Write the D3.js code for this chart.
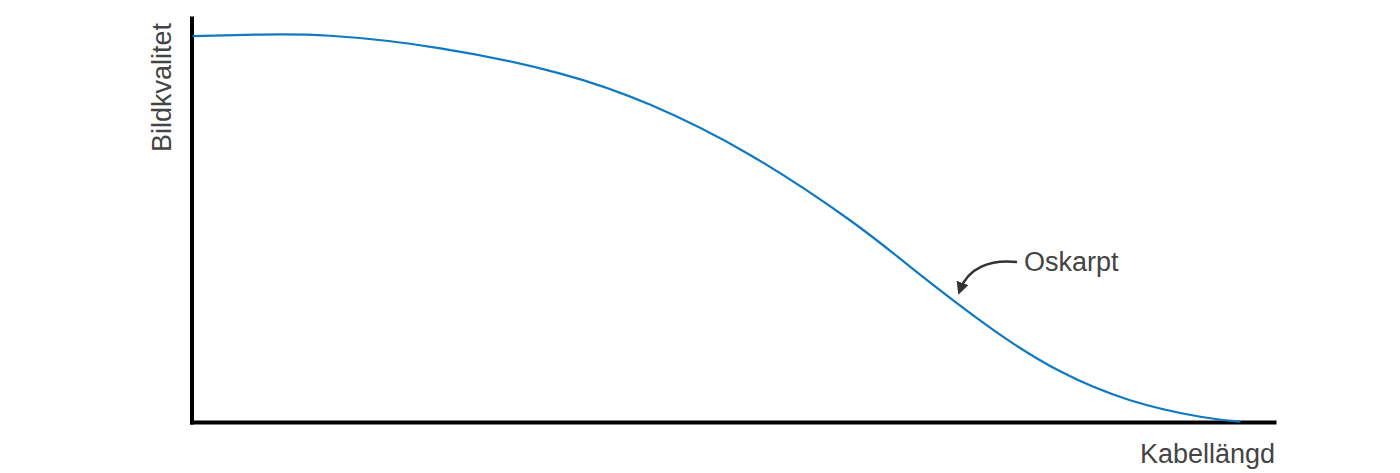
<!DOCTYPE html>
<html>
<head>
<meta charset="utf-8">
<script src="https://cdn.jsdelivr.net/npm/d3@7"></script>
<style>
  body { margin: 0; background: #fff; }
  text { font-family: "Liberation Sans", Arial, sans-serif; }
</style>
</head>
<body>
<div id="chart"></div>
<script>
// Curve (unitless: cable length vs. image quality)
const cableLength = [0.1, 6.3, 12.8, 23.0, 34.0, 42.4, 51.6, 60.8, 66.4, 73.8, 80.2, 86.7, 93.2, 96.9];
const imageQuality = [95.5, 95.9, 95.6, 92.5, 86.3, 78.5, 66.1, 50.0, 38.4, 23.3, 12.6, 5.4, 1.3, 0.1];

const xLabel = "Kabellängd";
const yLabel = "Bildkvalitet";
const noteLabel = "Oskarpt";

const width = 1400, height = 473;

const svg = d3.select("#chart")
  .append("svg")
  .attr("width", width)
  .attr("height", height);

const x = d3.scaleLinear().domain([0, 100]).range([191.5, 1274]);
const y = d3.scaleLinear().domain([0, 100]).range([422, 18]);

const data = cableLength.map((d, i) => ({ x: d, y: imageQuality[i] }));

// axes without ticks
svg.append("g")
  .attr("transform", `translate(0,${y(0)})`)
  .call(d3.axisBottom(x).tickValues([]).tickSizeOuter(0));

svg.append("g")
  .attr("transform", `translate(${x(0)},0)`)
  .call(d3.axisLeft(y).tickValues([]).tickSizeOuter(0));

svg.selectAll(".domain")
  .attr("stroke", "#000")
  .attr("stroke-width", 4)
  .attr("stroke-linecap", "square");

// quality curve
const line = d3.line()
  .x((d) => x(d.x))
  .y((d) => y(d.y))
  .curve(d3.curveNatural);

svg.append("path")
  .datum(data)
  .attr("d", line)
  .attr("fill", "none")
  .attr("stroke", "#0f79c2")
  .attr("stroke-width", 2.2);

// axis titles
svg.append("text")
  .attr("x", 1275)
  .attr("y", 463)
  .attr("text-anchor", "end")
  .attr("font-size", 27)
  .attr("fill", "#444")
  .text(xLabel);

svg.append("text")
  .attr("transform", "translate(171,152) rotate(-90)")
  .attr("text-anchor", "start")
  .attr("font-size", 27)
  .attr("fill", "#444")
  .text(yLabel);

// annotation with curved arrow
svg.append("defs")
  .append("marker")
  .attr("id", "head")
  .attr("viewBox", "0 0 10 10")
  .attr("refX", 6)
  .attr("refY", 5)
  .attr("markerWidth", 5)
  .attr("markerHeight", 5)
  .attr("orient", "auto")
  .append("path")
  .attr("d", "M0,0 L10,5 L0,10 Z")
  .attr("fill", "#333");

svg.append("path")
  .attr("d", "M1017,262 C990,259 968,268 960,290")
  .attr("fill", "none")
  .attr("stroke", "#333")
  .attr("stroke-width", 2.5)
  .attr("marker-end", "url(#head)");

svg.append("text")
  .attr("x", 1024)
  .attr("y", 271)
  .attr("font-size", 27)
  .attr("fill", "#444")
  .text(noteLabel);
</script>
</body>
</html>
